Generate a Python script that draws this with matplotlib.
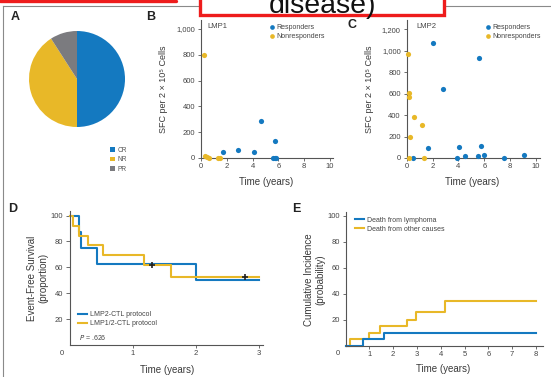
import matplotlib
matplotlib.use('Agg')
import matplotlib.pyplot as plt
from matplotlib.lines import Line2D
from matplotlib.patches import Rectangle

plt.rcParams['font.family'] = ['Liberation Sans', 'DejaVu Sans']

BLUE = '#1479c0'
YELLOW = '#e8b828'
GRAY = '#7b7b7f'
TXT = '#3a3a3a'
AX = '#555555'

# panel A: best response
resp_labels = ['CR', 'NR', 'PR']
resp_counts = [11, 9, 2]

# panel B: LMP1 responses
lmp1_resp_t = [1.73, 2.9, 4.13, 4.63, 5.71, 5.6, 5.72, 5.85]
lmp1_resp_sfc = [44, 65, 44, 284, 132, 0, 0, 0]
lmp1_non_t = [0.2, 0.3, 0.45, 0.6, 1.3, 1.45]
lmp1_non_sfc = [800, 12, 5, 2, 0, 0]

# panel C: LMP2 responses
lmp2_resp_t = [2.04, 2.84, 5.62, 1.63, 0.46, 4.05, 3.92, 4.51, 5.52, 5.72, 6.0, 7.5, 9.1]
lmp2_resp_sfc = [1069, 647, 936, 90, 0, 106, 0, 16, 16, 112, 28, 0, 25]
lmp2_non_t = [0.1, 0.2, 0.2, 0.54, 1.2, 0.28, 0.15, 1.37]
lmp2_non_sfc = [970, 609, 566, 385, 308, 199, 0, 0]

# panel D: event-free survival
efs_lmp2_t = [0, 0.15, 0.17, 0.43, 2.0, 3.0]
efs_lmp2 = [100, 87.5, 75, 62.5, 50, 50]
efs_lmp12_t = [0, 0.05, 0.15, 0.28, 0.52, 1.18, 1.6, 3.0]
efs_lmp12 = [100, 92.3, 84.6, 76.9, 69.2, 61.5, 52.7, 52.7]
censor_t = [1.3, 2.78]
censor_v = [61.5, 52.7]
p_value = '.626'

# panel E: cumulative incidence
ci_lymph_t = [0, 0.72, 1.6, 8.0]
ci_lymph = [0, 5, 10, 10]
ci_other_t = [0, 0.2, 1.0, 1.45, 2.6, 2.95, 4.2, 8.0]
ci_other = [0, 5, 10, 15, 20, 26, 34.5, 34.5]

W, H = 551, 377
fig = plt.figure(figsize=(W / 100, H / 100), dpi=100)


def fx(px):
    return px / W


def fy(py):
    return 1 - py / H


def box(x0, y0, x1, y1):
    return [fx(x0), fy(y1), (x1 - x0) / W, (y1 - y0) / H]


def ftext(x, y, s, **kw):
    kw.setdefault('color', TXT)
    kw.setdefault('ha', 'center')
    kw.setdefault('va', 'center')
    fig.text(fx(x), fy(y), s, **kw)


def style_axes(ax, xpad, ypad, ylen=2.5):
    for side in ['top', 'right']:
        ax.spines[side].set_visible(False)
    for side in ['left', 'bottom']:
        ax.spines[side].set_color(AX)
        ax.spines[side].set_linewidth(0.8)
    ax.tick_params(axis='both', colors=AX, labelcolor='#444444', labelsize=5.5, width=0.6)
    ax.tick_params(axis='x', length=2.5, pad=xpad)
    ax.tick_params(axis='y', length=ylen, pad=ypad)
    ax.set_facecolor('none')


# frame lines
fig.add_artist(Line2D([fx(3.3), fx(3.3)], [fy(6), fy(377)], color='#8a8a8a', lw=0.8))
fig.add_artist(Line2D([fx(3.3), fx(551)], [fy(6), fy(6)], color='#8a8a8a', lw=0.8))

# --- A ---
axA = fig.add_axes(box(17, 19, 137, 139))
wedges, _ = axA.pie(resp_counts, colors=[BLUE, YELLOW, GRAY], startangle=90,
                    counterclock=False, wedgeprops=dict(linewidth=0))
axA.set_aspect('equal')
axA.legend(wedges, resp_labels, loc='upper left', bbox_to_anchor=(fx(110), fy(147)),
           bbox_transform=fig.transFigure, frameon=False, fontsize=4.8,
           handlelength=0.75, handleheight=0.75, handletextpad=0.4,
           labelspacing=0.35, borderpad=0, borderaxespad=0, labelcolor='#555555')
ftext(15, 17, 'A', fontsize=9, fontweight='bold', color='#222222')

# --- B ---
axB = fig.add_axes(box(201, 20, 333, 158))
axB.scatter(lmp1_resp_t, lmp1_resp_sfc, s=14, color=BLUE, lw=0, clip_on=False, zorder=3,
            label='Responders')
axB.scatter(lmp1_non_t, lmp1_non_sfc, s=14, color=YELLOW, lw=0, clip_on=False, zorder=3,
            label='Nonresponders')
axB.set_xlim(0, 10.25)
axB.set_ylim(0, 1070)
axB.set_xticks([0, 2, 4, 6, 8, 10])
axB.set_yticks([0, 200, 400, 600, 800, 1000])
axB.set_yticklabels(['0', '200', '400', '600', '800', '1,000'])
style_axes(axB, 1.1, 1.8)
axB.text(0.05, 0.95, 'LMP1', transform=axB.transAxes, fontsize=5.5, color='#444444',
         va='center', ha='left')
axB.legend(loc='upper left', bbox_to_anchor=(fx(269), fy(24)), bbox_transform=fig.transFigure,
           frameon=False, fontsize=5, handletextpad=0.1, labelspacing=0.3, borderpad=0,
           borderaxespad=0, markerscale=0.9, labelcolor='#444444', handlelength=1.0)
ftext(151, 17, 'B', fontsize=9, fontweight='bold', color='#222222')
ftext(266, 182, 'Time (years)', fontsize=7)
ftext(163, 89, 'SFC per 2 × 10⁵ Cells', fontsize=6.5, rotation=90)

# --- C ---
axC = fig.add_axes(box(406.7, 20, 540, 158))
axC.scatter(lmp2_resp_t, lmp2_resp_sfc, s=14, color=BLUE, lw=0, clip_on=False, zorder=3,
            label='Responders')
axC.scatter(lmp2_non_t, lmp2_non_sfc, s=14, color=YELLOW, lw=0, clip_on=False, zorder=3,
            label='Nonresponders')
axC.set_xlim(0, 10.3)
axC.set_ylim(0, 1287)
axC.set_xticks([0, 2, 4, 6, 8, 10])
axC.set_yticks([0, 200, 400, 600, 800, 1000, 1200])
axC.set_yticklabels(['0', '200', '400', '600', '800', '1,000', '1,200'])
style_axes(axC, 1.1, 1.8)
axC.text(0.07, 0.95, 'LMP2', transform=axC.transAxes, fontsize=5.5, color='#444444',
         va='center', ha='left')
axC.legend(loc='upper left', bbox_to_anchor=(fx(485), fy(24)), bbox_transform=fig.transFigure,
           frameon=False, fontsize=5, handletextpad=0.1, labelspacing=0.3, borderpad=0,
           borderaxespad=0, markerscale=0.9, labelcolor='#444444', handlelength=1.0)
ftext(352, 25, 'C', fontsize=9, fontweight='bold', color='#222222')
ftext(472, 182, 'Time (years)', fontsize=7)
ftext(370, 89, 'SFC per 2 × 10⁵ Cells', fontsize=6.5, rotation=90)

# --- D ---
axD = fig.add_axes(box(70, 211, 263, 345.2))
axD.step(efs_lmp2_t, efs_lmp2, where='post', color=BLUE, lw=1.5, label='LMP2-CTL protocol',
         clip_on=False)
axD.step(efs_lmp12_t, efs_lmp12, where='post', color=YELLOW, lw=1.5,
         label='LMP1/2-CTL protocol', clip_on=False)
axD.plot(censor_t, censor_v, '+', color='#222222', ms=5, mew=1.2, zorder=4)
axD.set_xlim(0, 3.06)
axD.set_ylim(0, 103.5)
axD.set_xticks([1, 2, 3])
axD.set_yticks([20, 40, 60, 80, 100])
style_axes(axD, 1, 2, ylen=3)
axD.legend(loc='upper left', bbox_to_anchor=(fx(78), fy(311)), bbox_transform=fig.transFigure,
           frameon=False, fontsize=5, handlelength=1.3, handletextpad=0.4, labelspacing=0.3,
           borderpad=0, borderaxespad=0, labelcolor='#444444')
axD.text(fx(79), fy(337.7), '$P$ = ' + p_value, transform=fig.transFigure, fontsize=5,
         color='#444444', ha='left', va='center')
ftext(62, 353.3, '0', fontsize=5.5, color='#444444')
ftext(13, 209, 'D', fontsize=9, fontweight='bold', color='#222222')
ftext(167, 370, 'Time (years)', fontsize=7)
ftext(37.5, 278, 'Event-Free Survival\n(proportion)', fontsize=7, rotation=90, linespacing=1.1)

# --- E ---
axE = fig.add_axes(box(345.5, 211.7, 543.3, 345.7))
axE.step(ci_other_t, ci_other, where='post', color=YELLOW, lw=1.5,
         label='Death from other causes', clip_on=False)
axE.step(ci_lymph_t, ci_lymph, where='post', color=BLUE, lw=1.5,
         label='Death from lymphoma', clip_on=False)
axE.set_xlim(0, 8.31)
axE.set_ylim(0, 103.1)
axE.set_xticks([1, 2, 3, 4, 5, 6, 7, 8])
axE.set_yticks([20, 40, 60, 80, 100])
style_axes(axE, 1, 1.5)
hE, lE = axE.get_legend_handles_labels()
axE.legend(hE[::-1], lE[::-1], loc='upper left', bbox_to_anchor=(fx(355), fy(216.5)),
           bbox_transform=fig.transFigure, frameon=False, fontsize=5, handlelength=1.3,
           handletextpad=0.4, labelspacing=0.3, borderpad=0, borderaxespad=0,
           labelcolor='#444444')
ftext(337.7, 353.3, '0', fontsize=5.5, color='#444444')
ftext(296, 209, 'E', fontsize=9, fontweight='bold', color='#222222')
ftext(442.7, 369.3, 'Time (years)', fontsize=7)
ftext(314.6, 280, 'Cumulative Incidence\n(probability)', fontsize=7, rotation=90, linespacing=1.1)

# red title box over the top edge
fig.add_artist(Line2D([fx(0), fx(176)], [fy(1.3), fy(1.3)], color='#ee1c1c', lw=2.4,
                      solid_capstyle='round', zorder=10))
fig.add_artist(Rectangle((fx(200), fy(15)), (444 - 200) / W, 25 / H, transform=fig.transFigure,
                         facecolor='white', edgecolor='#ee1c1c', lw=2.4, zorder=10))
fig.text(fx(322), fy(13.3), 'disease)', fontsize=20.5, color='#111111', ha='center',
         va='baseline', zorder=11)

fig.savefig('out.png', dpi=100)
